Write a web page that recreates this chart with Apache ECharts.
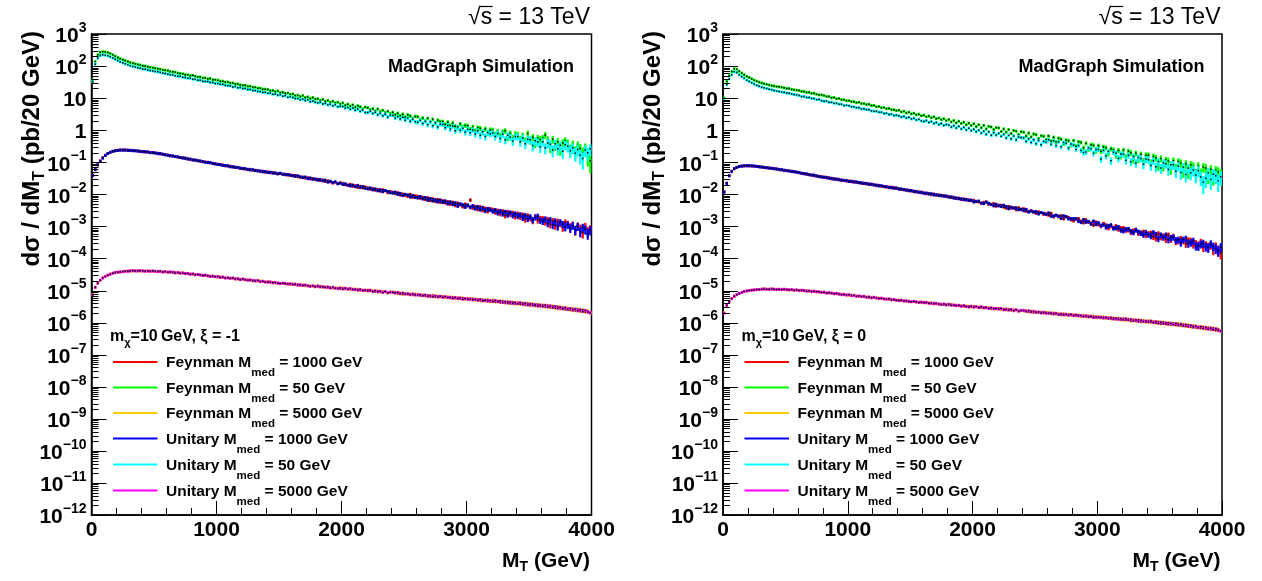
<!DOCTYPE html>
<html>
<head>
<meta charset="utf-8">
<script src="https://cdn.jsdelivr.net/npm/echarts@6/dist/echarts.min.js"></script>
<style>
  html, body { margin: 0; padding: 0; background: #fff; }
  #chart { width: 1262px; height: 581px; }
</style>
</head>
<body>
<div id="chart"></div>
<script>
// ---- Histogram binning: 200 bins of 20 GeV in M_T ----
const BIN_WIDTH = 20;
const mtBinLow = Array.from({ length: 200 }, (_, i) => i * BIN_WIDTH);

// ---- Axis ticks ----
const xTickValues = [0, 1000, 2000, 3000, 4000];
const yDecades = [-12, -11, -10, -9, -8, -7, -6, -5, -4, -3, -2, -1, 0, 1, 2, 3];

// ---- Series definitions (drawing order) ----
const seriesModel = ['Feynman', 'Feynman', 'Feynman', 'Unitary', 'Unitary', 'Unitary'];
const seriesMass = ['1000', '50', '5000', '1000', '50', '5000'];
const seriesColors = ['#ff0000', '#00ff00', '#ffcc00', '#0000ff', '#00ffff', '#ff00ff'];

// Per-event weight (pb) used for the statistical error bars, sqrt(w * value)
const eventWeightXiM1 = [8e-5, 0.04, 2.4e-8, 8e-5, 0.04, 2.4e-8];
const eventWeightXi0 = [2.2e-5, 0.008, 5.5e-9, 2.2e-5, 0.008, 5.5e-9];

// ---- dσ/dM_T per 20 GeV bin, stored as log10(pb) ----
// xi = -1
const lgFey1000_xiM1 = [
-1.40,-1.22,-1.08,-0.96,-0.86,-0.78,-0.73,-0.69,-0.66,-0.64,
-0.63,-0.62,-0.62,-0.62,-0.62,-0.63,-0.63,-0.64,-0.65,-0.66,
-0.67,-0.68,-0.68,-0.69,-0.70,-0.71,-0.72,-0.74,-0.75,-0.76,
-0.78,-0.79,-0.81,-0.82,-0.84,-0.85,-0.86,-0.88,-0.89,-0.91,
-0.92,-0.94,-0.95,-0.97,-0.98,-0.99,-1.00,-1.02,-1.03,-1.05,
-1.06,-1.08,-1.08,-1.11,-1.12,-1.12,-1.15,-1.15,-1.17,-1.19,
-1.19,-1.21,-1.23,-1.22,-1.25,-1.25,-1.26,-1.29,-1.28,-1.31,
-1.30,-1.33,-1.32,-1.35,-1.36,-1.35,-1.38,-1.37,-1.40,-1.39,
-1.43,-1.41,-1.45,-1.47,-1.46,-1.49,-1.48,-1.52,-1.51,-1.54,
-1.53,-1.57,-1.55,-1.60,-1.58,-1.61,-1.65,-1.62,-1.66,-1.64,
-1.66,-1.70,-1.72,-1.69,-1.75,-1.73,-1.78,-1.75,-1.80,-1.77,
-1.80,-1.84,-1.82,-1.87,-1.85,-1.90,-1.86,-1.89,-1.95,-1.91,
-1.93,-1.98,-1.95,-2.02,-1.99,-2.03,-2.06,-2.00,-2.09,-2.05,
-2.06,-2.12,-2.09,-2.16,-2.11,-2.19,-2.14,-2.22,-2.16,-2.24,
-2.20,-2.26,-2.23,-2.30,-2.25,-2.34,-2.28,-2.32,-2.38,-2.31,
-2.35,-2.18,-2.42,-2.38,-2.46,-2.40,-2.49,-2.44,-2.52,-2.46,
-2.48,-2.56,-2.51,-2.60,-2.53,-2.66,-2.55,-2.62,-2.58,-2.69,
-2.61,-2.70,-2.64,-2.78,-2.67,-2.74,-2.82,-2.69,-2.80,-2.75,
-2.76,-2.86,-2.79,-2.93,-2.83,-2.97,-2.85,-2.90,-3.02,-2.88,
-2.92,-3.01,-2.95,-3.12,-2.98,-3.06,-3.19,-3.00,-3.14,-3.08
];
const lgFey50_xiM1 = [
1.57,2.14,2.35,2.43,2.45,2.44,2.42,2.39,2.35,2.31,
2.27,2.23,2.20,2.17,2.14,2.11,2.09,2.07,2.05,2.03,
2.01,2.00,1.98,1.96,1.95,1.93,1.92,1.90,1.88,1.87,
1.86,1.83,1.82,1.81,1.78,1.77,1.76,1.73,1.73,1.70,
1.71,1.68,1.66,1.66,1.63,1.63,1.60,1.61,1.57,1.57,
1.56,1.53,1.53,1.50,1.50,1.47,1.47,1.44,1.44,1.41,
1.40,1.40,1.37,1.37,1.34,1.34,1.31,1.31,1.28,1.28,
1.27,1.23,1.24,1.20,1.22,1.17,1.18,1.15,1.16,1.11,
1.13,1.08,1.09,1.05,1.08,1.02,1.04,0.99,1.02,0.97,
0.98,0.93,0.96,0.90,0.93,0.87,0.90,0.85,0.87,0.82,
0.85,0.78,0.81,0.75,0.79,0.72,0.76,0.73,0.67,0.72,
0.70,0.64,0.67,0.60,0.66,0.58,0.62,0.55,0.59,0.52,
0.56,0.48,0.53,0.45,0.50,0.41,0.48,0.44,0.37,0.43,
0.42,0.33,0.38,0.29,0.37,0.26,0.34,0.22,0.31,0.27,
0.27,0.18,0.25,0.14,0.22,0.12,0.08,0.19,0.10,0.15,
0.14,0.02,0.10,-0.03,0.08,0.06,-0.06,0.04,-0.08,0.01,
0.00,-0.14,-0.04,-0.18,-0.06,-0.02,-0.22,-0.10,-0.25,-0.12,
-0.14,-0.28,-0.17,-0.34,-0.10,-0.31,-0.22,-0.40,-0.25,-0.29,
-0.25,-0.15,-0.30,-0.52,-0.28,-0.47,-0.36,-0.58,-0.40,-0.33,
-0.42,-0.60,-0.45,-0.66,-0.48,-0.57,-0.70,-0.55,-0.82,-0.95
];
const lgFey5000_xiM1 = [
-5.13,-4.91,-4.78,-4.69,-4.60,-4.56,-4.52,-4.49,-4.46,-4.44,
-4.43,-4.42,-4.41,-4.40,-4.39,-4.39,-4.39,-4.38,-4.39,-4.39,
-4.39,-4.39,-4.40,-4.39,-4.40,-4.41,-4.40,-4.41,-4.42,-4.42,
-4.42,-4.43,-4.44,-4.43,-4.45,-4.45,-4.46,-4.46,-4.48,-4.48,
-4.49,-4.50,-4.50,-4.52,-4.52,-4.53,-4.55,-4.54,-4.56,-4.57,
-4.58,-4.57,-4.59,-4.60,-4.60,-4.62,-4.62,-4.63,-4.65,-4.64,
-4.65,-4.67,-4.66,-4.68,-4.70,-4.69,-4.71,-4.70,-4.72,-4.74,
-4.72,-4.75,-4.74,-4.77,-4.76,-4.78,-4.77,-4.80,-4.79,-4.81,
-4.79,-4.82,-4.81,-4.84,-4.82,-4.85,-4.86,-4.85,-4.87,-4.86,
-4.88,-4.86,-4.90,-4.88,-4.91,-4.90,-4.93,-4.91,-4.92,-4.95,
-4.92,-4.95,-4.94,-4.97,-4.95,-4.98,-4.96,-5.00,-4.98,-5.01,
-4.98,-5.02,-5.00,-5.04,-5.01,-5.05,-5.03,-5.04,-5.08,-5.05,
-5.07,-5.05,-5.10,-5.07,-5.12,-5.09,-5.12,-5.10,-5.14,-5.11,
-5.12,-5.16,-5.13,-5.17,-5.15,-5.19,-5.15,-5.20,-5.17,-5.21,
-5.18,-5.22,-5.19,-5.24,-5.20,-5.25,-5.22,-5.26,-5.23,-5.28,
-5.24,-5.29,-5.25,-5.30,-5.27,-5.32,-5.28,-5.33,-5.29,-5.35,
-5.30,-5.36,-5.32,-5.38,-5.33,-5.39,-5.34,-5.41,-5.36,-5.42,
-5.37,-5.43,-5.39,-5.45,-5.40,-5.47,-5.41,-5.48,-5.43,-5.50,
-5.45,-5.51,-5.46,-5.53,-5.48,-5.55,-5.50,-5.57,-5.52,-5.59,
-5.55,-5.61,-5.56,-5.63,-5.58,-5.65,-5.60,-5.67,-5.63,-5.70
];
const lgUni1000_xiM1 = [
-1.41,-1.23,-1.08,-0.97,-0.87,-0.79,-0.73,-0.69,-0.66,-0.64,
-0.63,-0.62,-0.62,-0.62,-0.63,-0.63,-0.64,-0.64,-0.65,-0.66,
-0.67,-0.67,-0.68,-0.70,-0.70,-0.71,-0.73,-0.73,-0.75,-0.77,
-0.78,-0.80,-0.80,-0.82,-0.83,-0.85,-0.87,-0.87,-0.90,-0.90,
-0.93,-0.93,-0.95,-0.96,-0.98,-1.00,-1.01,-1.01,-1.04,-1.05,
-1.07,-1.07,-1.10,-1.10,-1.11,-1.14,-1.14,-1.16,-1.16,-1.18,
-1.20,-1.20,-1.22,-1.24,-1.23,-1.26,-1.27,-1.27,-1.30,-1.29,
-1.32,-1.31,-1.34,-1.33,-1.36,-1.34,-1.37,-1.39,-1.38,-1.41,
-1.41,-1.44,-1.42,-1.45,-1.48,-1.46,-1.51,-1.49,-1.53,-1.52,
-1.56,-1.54,-1.58,-1.56,-1.62,-1.59,-1.63,-1.61,-1.67,-1.65,
-1.69,-1.67,-1.71,-1.74,-1.71,-1.76,-1.72,-1.79,-1.76,-1.81,
-1.83,-1.80,-1.86,-1.83,-1.89,-1.86,-1.92,-1.88,-1.91,-1.95,
-1.96,-1.93,-2.00,-1.97,-2.04,-2.00,-2.02,-2.08,-2.04,-2.10,
-2.11,-2.07,-2.14,-2.10,-2.18,-2.13,-2.20,-2.17,-2.23,-2.18,
-2.25,-2.21,-2.29,-2.24,-2.31,-2.27,-2.36,-2.30,-2.33,-2.39,
-2.34,-2.40,-2.36,-2.44,-2.39,-2.47,-2.42,-2.51,-2.45,-2.48,
-2.53,-2.49,-2.58,-2.52,-2.61,-2.55,-2.64,-2.57,-2.66,-2.60,
-2.68,-2.63,-2.73,-2.66,-2.76,-2.70,-2.79,-2.72,-2.68,-2.81,
-2.84,-2.77,-2.90,-2.80,-2.95,-2.84,-2.99,-2.87,-2.93,-3.01,
-2.95,-3.05,-2.97,-3.10,-3.00,-3.16,-3.03,-3.09,-3.22,-3.11
];
const lgUni50_xiM1 = [
1.50,2.06,2.25,2.33,2.35,2.34,2.32,2.29,2.25,2.21,
2.17,2.13,2.10,2.07,2.04,2.01,1.99,1.97,1.95,1.93,
1.91,1.90,1.88,1.86,1.85,1.83,1.82,1.80,1.78,1.77,
1.75,1.73,1.73,1.70,1.68,1.68,1.65,1.64,1.62,1.62,
1.59,1.59,1.56,1.56,1.53,1.52,1.52,1.49,1.49,1.46,
1.46,1.43,1.43,1.40,1.39,1.39,1.35,1.36,1.32,1.33,
1.30,1.30,1.27,1.27,1.24,1.24,1.21,1.21,1.18,1.18,
1.15,1.16,1.12,1.13,1.09,1.11,1.06,1.08,1.03,1.04,
1.02,0.99,0.99,0.95,0.97,0.93,0.95,0.89,0.91,0.87,
0.85,0.87,0.82,0.84,0.79,0.81,0.76,0.79,0.73,0.75,
0.74,0.69,0.71,0.65,0.69,0.62,0.66,0.59,0.63,0.55,
0.55,0.59,0.52,0.56,0.48,0.53,0.45,0.50,0.41,0.47,
0.46,0.38,0.43,0.35,0.40,0.31,0.38,0.28,0.34,0.26,
0.25,0.31,0.21,0.28,0.17,0.26,0.14,0.23,0.10,0.19,
0.18,0.08,0.15,0.04,0.13,-0.02,0.10,0.00,0.06,-0.06,
0.03,-0.08,0.01,-0.12,-0.02,-0.16,-0.05,-0.20,-0.07,-0.11,
-0.09,-0.20,-0.10,-0.26,-0.13,-0.30,-0.16,-0.21,-0.34,-0.20,
-0.20,-0.36,-0.24,-0.42,-0.28,-0.30,-0.48,-0.33,-0.37,-0.52,
-0.36,-0.55,-0.40,-0.44,-0.62,-0.42,-0.58,-0.47,-0.66,-0.45,
-0.50,-0.64,-0.55,-0.72,-0.60,-0.78,-0.88,-0.62,-0.70,-0.58
];
const lgUni5000_xiM1 = [
-5.14,-4.90,-4.77,-4.68,-4.61,-4.56,-4.52,-4.49,-4.46,-4.44,
-4.43,-4.42,-4.41,-4.40,-4.40,-4.39,-4.38,-4.39,-4.39,-4.38,
-4.39,-4.40,-4.39,-4.40,-4.39,-4.40,-4.41,-4.40,-4.42,-4.41,
-4.43,-4.42,-4.43,-4.45,-4.44,-4.46,-4.45,-4.47,-4.47,-4.49,
-4.48,-4.51,-4.50,-4.51,-4.53,-4.52,-4.54,-4.56,-4.55,-4.57,
-4.56,-4.59,-4.58,-4.61,-4.60,-4.62,-4.61,-4.64,-4.63,-4.66,
-4.64,-4.66,-4.68,-4.67,-4.69,-4.70,-4.69,-4.72,-4.71,-4.73,
-4.74,-4.73,-4.76,-4.75,-4.77,-4.78,-4.77,-4.78,-4.80,-4.79,
-4.81,-4.80,-4.83,-4.82,-4.84,-4.83,-4.85,-4.87,-4.85,-4.88,
-4.86,-4.89,-4.88,-4.90,-4.89,-4.92,-4.90,-4.93,-4.94,-4.92,
-4.95,-4.93,-4.96,-4.94,-4.97,-4.96,-4.99,-4.97,-5.00,-4.99,
-5.01,-4.99,-5.03,-5.01,-5.04,-5.02,-5.06,-5.03,-5.07,-5.05,
-5.05,-5.08,-5.06,-5.10,-5.08,-5.11,-5.10,-5.13,-5.11,-5.14,
-5.14,-5.13,-5.16,-5.14,-5.18,-5.16,-5.19,-5.17,-5.20,-5.18,
-5.21,-5.19,-5.22,-5.21,-5.24,-5.22,-5.25,-5.23,-5.27,-5.25,
-5.27,-5.26,-5.29,-5.27,-5.30,-5.28,-5.32,-5.30,-5.33,-5.31,
-5.34,-5.31,-5.35,-5.33,-5.37,-5.35,-5.39,-5.36,-5.40,-5.38,
-5.41,-5.38,-5.43,-5.40,-5.45,-5.42,-5.46,-5.44,-5.48,-5.45,
-5.49,-5.46,-5.51,-5.48,-5.53,-5.50,-5.55,-5.52,-5.57,-5.54,
-5.59,-5.56,-5.61,-5.58,-5.63,-5.60,-5.65,-5.62,-5.67,-5.69
];

// xi = 0
const lgFey1000_xi0 = [
-1.92,-1.65,-1.42,-1.28,-1.20,-1.16,-1.13,-1.12,-1.11,-1.11,
-1.11,-1.12,-1.12,-1.13,-1.14,-1.15,-1.16,-1.17,-1.18,-1.19,
-1.20,-1.21,-1.22,-1.24,-1.25,-1.26,-1.27,-1.28,-1.30,-1.31,
-1.33,-1.35,-1.35,-1.38,-1.38,-1.40,-1.42,-1.42,-1.45,-1.45,
-1.46,-1.49,-1.48,-1.52,-1.51,-1.54,-1.53,-1.57,-1.56,-1.59,
-1.58,-1.61,-1.60,-1.63,-1.63,-1.66,-1.65,-1.68,-1.67,-1.70,
-1.70,-1.73,-1.72,-1.75,-1.75,-1.78,-1.77,-1.80,-1.79,-1.82,
-1.82,-1.85,-1.85,-1.88,-1.87,-1.90,-1.90,-1.93,-1.92,-1.95,
-1.95,-1.98,-1.97,-2.01,-1.99,-2.03,-2.02,-2.05,-2.04,-2.07,
-2.07,-2.10,-2.09,-2.13,-2.12,-2.16,-2.14,-2.18,-2.17,-2.20,
-2.19,-2.23,-2.24,-2.28,-2.25,-2.24,-2.31,-2.31,-2.29,-2.37,
-2.34,-2.34,-2.40,-2.43,-2.38,-2.43,-2.42,-2.48,-2.42,-2.48,
-2.45,-2.53,-2.53,-2.51,-2.55,-2.59,-2.55,-2.57,-2.62,-2.61,
-2.65,-2.59,-2.70,-2.66,-2.70,-2.67,-2.76,-2.69,-2.72,-2.79,
-2.82,-2.78,-2.76,-2.84,-2.88,-2.80,-2.86,-2.90,-2.95,-2.87,
-2.94,-2.99,-2.91,-2.96,-3.05,-2.99,-3.04,-2.99,-3.09,-3.06,
-3.05,-3.12,-3.11,-3.18,-3.13,-3.11,-3.21,-3.20,-3.17,-3.27,
-3.22,-3.21,-3.32,-3.36,-3.23,-3.33,-3.30,-3.40,-3.27,-3.40,
-3.31,-3.46,-3.44,-3.39,-3.44,-3.53,-3.43,-3.45,-3.55,-3.53,
-3.58,-3.49,-3.64,-3.57,-3.62,-3.58,-3.72,-3.61,-3.72,-3.82
];
const lgFey50_xi0 = [
1.00,1.52,1.70,1.83,1.92,1.90,1.84,1.78,1.73,1.68,
1.64,1.60,1.56,1.53,1.50,1.47,1.45,1.43,1.41,1.39,
1.38,1.36,1.35,1.34,1.32,1.30,1.30,1.27,1.26,1.25,
1.24,1.21,1.21,1.18,1.18,1.15,1.15,1.12,1.10,1.10,
1.08,1.05,1.05,1.01,1.02,0.98,0.99,0.95,0.95,0.92,
0.92,0.89,0.89,0.86,0.87,0.83,0.83,0.80,0.81,0.77,
0.77,0.73,0.74,0.70,0.71,0.67,0.68,0.64,0.64,0.61,
0.62,0.57,0.59,0.54,0.56,0.51,0.53,0.48,0.50,0.45,
0.47,0.42,0.44,0.39,0.42,0.36,0.38,0.33,0.36,0.30,
0.33,0.26,0.30,0.23,0.28,0.21,0.25,0.17,0.22,0.15,
0.20,0.11,0.17,0.08,0.15,0.04,0.12,0.10,0.02,0.08,
0.07,-0.04,0.04,-0.06,0.02,-0.10,-0.01,-0.03,-0.14,-0.05,
-0.06,-0.18,-0.09,-0.21,-0.12,-0.14,-0.26,-0.17,-0.19,-0.30,
-0.18,-0.34,-0.22,-0.37,-0.25,-0.28,-0.43,-0.31,-0.33,-0.47,
-0.32,-0.50,-0.36,-0.38,-0.55,-0.41,-0.59,-0.45,-0.47,-0.64,
-0.48,-0.66,-0.52,-0.55,-0.72,-0.58,-0.61,-0.78,-0.63,-0.80,
-0.62,-0.85,-0.66,-0.70,-0.92,-0.72,-0.90,-0.75,-0.97,-0.78,
-0.78,-1.02,-0.82,-0.86,-1.10,-0.88,-1.12,-0.93,-0.96,-1.20,
-0.95,-1.18,-0.98,-1.02,-1.28,-1.05,-1.30,-1.08,-1.12,-1.36,
-1.12,-1.35,-1.15,-1.18,-1.42,-1.22,-1.45,-1.25,-1.30,-1.38
];
const lgFey5000_xi0 = [
-5.70,-5.47,-5.34,-5.25,-5.17,-5.13,-5.09,-5.06,-5.03,-5.01,
-5.00,-4.99,-4.98,-4.97,-4.96,-4.96,-4.95,-4.96,-4.96,-4.95,
-4.96,-4.96,-4.97,-4.96,-4.97,-4.98,-4.97,-4.98,-4.99,-4.99,
-4.99,-5.00,-5.01,-5.00,-5.02,-5.02,-5.03,-5.03,-5.05,-5.05,
-5.06,-5.07,-5.07,-5.09,-5.09,-5.10,-5.12,-5.11,-5.13,-5.14,
-5.15,-5.14,-5.16,-5.17,-5.17,-5.19,-5.19,-5.20,-5.22,-5.21,
-5.22,-5.24,-5.23,-5.25,-5.27,-5.26,-5.28,-5.27,-5.29,-5.31,
-5.29,-5.32,-5.31,-5.34,-5.33,-5.35,-5.34,-5.37,-5.36,-5.38,
-5.36,-5.39,-5.38,-5.41,-5.39,-5.42,-5.43,-5.42,-5.44,-5.43,
-5.45,-5.43,-5.47,-5.45,-5.48,-5.47,-5.50,-5.48,-5.49,-5.52,
-5.49,-5.52,-5.51,-5.54,-5.52,-5.55,-5.53,-5.57,-5.55,-5.58,
-5.55,-5.59,-5.57,-5.61,-5.58,-5.62,-5.60,-5.61,-5.65,-5.62,
-5.64,-5.62,-5.67,-5.64,-5.69,-5.66,-5.69,-5.67,-5.71,-5.68,
-5.69,-5.73,-5.70,-5.74,-5.72,-5.76,-5.72,-5.77,-5.74,-5.78,
-5.75,-5.79,-5.76,-5.81,-5.77,-5.82,-5.79,-5.83,-5.80,-5.85,
-5.81,-5.86,-5.82,-5.87,-5.84,-5.89,-5.85,-5.90,-5.86,-5.92,
-5.87,-5.93,-5.89,-5.95,-5.90,-5.96,-5.91,-5.98,-5.93,-5.99,
-5.94,-6.00,-5.96,-6.02,-5.97,-6.04,-5.98,-6.05,-6.00,-6.07,
-6.02,-6.08,-6.03,-6.10,-6.05,-6.12,-6.07,-6.14,-6.09,-6.16,
-6.12,-6.18,-6.13,-6.20,-6.15,-6.22,-6.17,-6.25,-6.20,-6.28
];
const lgUni1000_xi0 = [
-1.93,-1.66,-1.42,-1.29,-1.20,-1.16,-1.13,-1.12,-1.11,-1.11,
-1.11,-1.11,-1.12,-1.13,-1.14,-1.15,-1.16,-1.17,-1.18,-1.19,
-1.20,-1.21,-1.23,-1.23,-1.25,-1.26,-1.27,-1.29,-1.29,-1.31,
-1.32,-1.34,-1.36,-1.36,-1.39,-1.40,-1.40,-1.43,-1.44,-1.46,
-1.47,-1.47,-1.50,-1.50,-1.53,-1.52,-1.55,-1.55,-1.57,-1.57,
-1.60,-1.59,-1.62,-1.61,-1.64,-1.64,-1.66,-1.66,-1.69,-1.68,
-1.71,-1.71,-1.74,-1.73,-1.76,-1.76,-1.79,-1.78,-1.81,-1.80,
-1.84,-1.83,-1.86,-1.86,-1.89,-1.88,-1.92,-1.91,-1.94,-1.93,
-1.97,-1.96,-1.99,-1.98,-2.02,-2.01,-2.04,-2.03,-2.06,-2.05,
-2.09,-2.08,-2.12,-2.11,-2.14,-2.14,-2.17,-2.16,-2.19,-2.18,
-2.24,-2.22,-2.21,-2.27,-2.29,-2.24,-2.28,-2.32,-2.36,-2.31,
-2.36,-2.38,-2.34,-2.38,-2.45,-2.40,-2.43,-2.42,-2.48,-2.46,
-2.51,-2.47,-2.55,-2.52,-2.55,-2.54,-2.61,-2.57,-2.59,-2.63,
-2.58,-2.68,-2.67,-2.65,-2.68,-2.75,-2.67,-2.70,-2.76,-2.76,
-2.76,-2.76,-2.84,-2.87,-2.79,-2.86,-2.85,-2.92,-2.84,-2.93,
-2.89,-2.97,-2.95,-3.03,-2.98,-2.96,-3.06,-3.05,-3.02,-3.12,
-3.14,-3.09,-3.08,-3.15,-3.19,-3.11,-3.17,-3.21,-3.26,-3.18,
-3.26,-3.30,-3.19,-3.25,-3.38,-3.27,-3.34,-3.27,-3.41,-3.35,
-3.34,-3.43,-3.41,-3.50,-3.41,-3.38,-3.53,-3.50,-3.45,-3.60,
-3.61,-3.55,-3.52,-3.63,-3.66,-3.54,-3.62,-3.69,-3.76,-3.64
];
const lgUni50_xi0 = [
0.92,1.42,1.60,1.73,1.82,1.80,1.73,1.67,1.62,1.56,
1.52,1.48,1.44,1.40,1.37,1.34,1.32,1.30,1.28,1.26,
1.24,1.22,1.21,1.19,1.18,1.16,1.15,1.13,1.11,1.10,
1.08,1.05,1.05,1.02,1.02,0.99,0.99,0.95,0.96,0.92,
0.90,0.91,0.87,0.87,0.84,0.84,0.81,0.81,0.77,0.78,
0.76,0.73,0.73,0.70,0.70,0.66,0.67,0.64,0.64,0.60,
0.59,0.59,0.56,0.56,0.52,0.53,0.49,0.50,0.46,0.47,
0.45,0.41,0.43,0.38,0.40,0.35,0.37,0.32,0.34,0.29,
0.27,0.30,0.24,0.27,0.21,0.24,0.18,0.21,0.15,0.18,
0.16,0.10,0.14,0.07,0.12,0.04,0.09,0.01,0.06,-0.01,
0.03,-0.05,0.00,-0.09,-0.03,-0.13,-0.05,-0.16,-0.08,-0.15,
-0.10,-0.19,-0.13,-0.24,-0.16,-0.27,-0.18,-0.30,-0.21,-0.23,
-0.24,-0.35,-0.27,-0.38,-0.30,-0.42,-0.32,-0.45,-0.35,-0.37,
-0.30,-0.44,-0.33,-0.48,-0.36,-0.52,-0.38,-0.41,-0.56,-0.43,
-0.46,-0.60,-0.48,-0.63,-0.70,-0.68,-0.55,-0.58,-0.72,-0.60,
-0.60,-0.90,-0.63,-0.80,-0.66,-0.95,-0.69,-0.72,-0.88,-0.74,
-0.75,-0.94,-0.78,-0.98,-0.82,-1.02,-0.85,-0.88,-1.06,-0.90,
-0.92,-1.10,-0.95,-1.14,-0.98,-1.18,-1.02,-1.05,-1.22,-1.08,
-1.08,-1.28,-1.12,-1.32,-1.15,-1.38,-1.18,-1.33,-1.24,-1.40,
-1.26,-1.46,-1.62,-1.50,-1.33,-1.54,-1.37,-1.42,-1.58,-1.45
];
const lgUni5000_xi0 = [
-5.71,-5.46,-5.35,-5.25,-5.18,-5.13,-5.09,-5.06,-5.03,-5.01,
-5.00,-4.99,-4.98,-4.97,-4.97,-4.96,-4.95,-4.96,-4.96,-4.95,
-4.96,-4.97,-4.96,-4.97,-4.96,-4.97,-4.98,-4.97,-4.99,-4.98,
-5.00,-4.99,-5.00,-5.02,-5.01,-5.03,-5.02,-5.04,-5.04,-5.06,
-5.05,-5.08,-5.07,-5.08,-5.10,-5.09,-5.11,-5.13,-5.12,-5.14,
-5.13,-5.16,-5.15,-5.18,-5.17,-5.19,-5.18,-5.21,-5.20,-5.23,
-5.21,-5.23,-5.25,-5.24,-5.26,-5.27,-5.26,-5.29,-5.28,-5.30,
-5.31,-5.30,-5.33,-5.32,-5.34,-5.35,-5.34,-5.35,-5.37,-5.36,
-5.38,-5.37,-5.40,-5.39,-5.41,-5.40,-5.42,-5.44,-5.42,-5.45,
-5.43,-5.46,-5.45,-5.47,-5.46,-5.49,-5.47,-5.50,-5.51,-5.49,
-5.52,-5.50,-5.53,-5.51,-5.54,-5.53,-5.56,-5.54,-5.57,-5.56,
-5.58,-5.56,-5.60,-5.58,-5.61,-5.59,-5.63,-5.60,-5.64,-5.62,
-5.62,-5.65,-5.63,-5.67,-5.65,-5.68,-5.67,-5.70,-5.68,-5.71,
-5.71,-5.70,-5.73,-5.71,-5.75,-5.73,-5.76,-5.74,-5.77,-5.75,
-5.78,-5.76,-5.79,-5.78,-5.81,-5.79,-5.82,-5.80,-5.84,-5.82,
-5.84,-5.83,-5.86,-5.84,-5.87,-5.85,-5.89,-5.87,-5.90,-5.88,
-5.91,-5.88,-5.92,-5.90,-5.94,-5.92,-5.96,-5.93,-5.97,-5.95,
-5.98,-5.95,-6.00,-5.97,-6.02,-5.99,-6.03,-6.01,-6.05,-6.02,
-6.06,-6.03,-6.08,-6.05,-6.10,-6.07,-6.12,-6.09,-6.14,-6.11,
-6.16,-6.13,-6.18,-6.15,-6.20,-6.17,-6.22,-6.19,-6.24,-6.26
];

// ---- Layout ----
const FONT = '"Liberation Sans", Arial, Helvetica, sans-serif';
const Y_MIN = 1e-12, Y_MAX = 1e3;
const panels = [
  { left: 91.5, width: 500, xi: '-1', titleX: 32.5,
    data: [lgFey1000_xiM1, lgFey50_xiM1, lgFey5000_xiM1, lgUni1000_xiM1, lgUni50_xiM1, lgUni5000_xiM1],
    weight: eventWeightXiM1 },
  { left: 723, width: 499, xi: '0', titleX: 653,
    data: [lgFey1000_xi0, lgFey50_xi0, lgFey5000_xi0, lgUni1000_xi0, lgUni50_xi0, lgUni5000_xi0],
    weight: eventWeightXi0 }
];
const GRID_TOP = 34, GRID_HEIGHT = 481;

// Log-axis ticks: decades (major, labelled) and 2..9 x 10^n (minor)
const yMajorTicks = yDecades.map(n => [0, Math.pow(10, n)]);
const yMinorTicks = [];
for (let n = -12; n < 3; n++) {
  for (let k = 2; k <= 9; k++) yMinorTicks.push([0, k * Math.pow(10, n)]);
}

function decadeLabel(value) {
  const n = Math.round(Math.log10(value));
  if (n === 0) return '{b|1}';
  if (n === 1) return '{b|10}';
  return '{b|10}{s|' + (n < 0 ? '\u2212' + (-n) : String(n)) + '}';
}
const decadeRich = {
  b: { fontFamily: FONT, fontWeight: 'bold', fontSize: 21, lineHeight: 26, verticalAlign: 'bottom', fill: '#000', color: '#000' },
  s: { fontFamily: FONT, fontWeight: 'bold', fontSize: 14, lineHeight: 14, padding: [0, 0, 8, 0], verticalAlign: 'top', fill: '#000', color: '#000' }
};

// One histogram bin: horizontal bar over the bin, vertical error bar, black marker
function renderBin(params, api) {
  const x0 = api.value(0), v = api.value(1), lo = api.value(2), hi = api.value(3);
  const color = api.visual('color');
  const a = api.coord([x0, v]);
  const b = api.coord([x0 + BIN_WIDTH, v]);
  const xc = (a[0] + b[0]) / 2;
  const pLo = api.coord([x0, lo]);
  const pHi = api.coord([x0, hi]);
  return {
    type: 'group',
    children: [
      { type: 'line', shape: { x1: a[0], y1: a[1], x2: b[0], y2: b[1] }, style: { stroke: color, lineWidth: 3 } },
      { type: 'line', shape: { x1: xc, y1: pLo[1], x2: xc, y2: pHi[1] }, style: { stroke: color, lineWidth: 2.2 } },
      { type: 'rect', shape: { x: xc - 0.75, y: a[1] - 0.75, width: 1.5, height: 1.5 }, style: { fill: '#000' } }
    ]
  };
}

function renderMinorTick(params, api) {
  const p = api.coord([api.value(0), api.value(1)]);
  const y = Math.round(p[1]) + 0.5;
  return { type: 'line', shape: { x1: p[0], y1: y, x2: p[0] + 7, y2: y }, style: { stroke: '#000', lineWidth: 1 } };
}

function renderMajorTick(params, api) {
  const v = api.value(1);
  const p = api.coord([api.value(0), v]);
  const y = Math.round(p[1]) + 0.5;
  return {
    type: 'group',
    children: [
      { type: 'line', shape: { x1: p[0], y1: y, x2: p[0] + 15, y2: y }, style: { stroke: '#000', lineWidth: 1 } },
      { type: 'text', x: p[0] - 5, y: p[1],
        style: { text: decadeLabel(v), rich: decadeRich, fill: '#000',
          align: 'right', textAlign: 'right', verticalAlign: 'middle', textVerticalAlign: 'middle' } }
    ]
  };
}

// Width of a string in a given CSS font, for placing the radical's bar
const measureCtx = document.createElement('canvas').getContext('2d');
function textWidth(str, font) { measureCtx.font = font; return measureCtx.measureText(str).width; }

const grids = [], xAxes = [], yAxes = [], series = [], graphics = [];
const richNormal = (size) => ({ fontFamily: FONT, fontWeight: 'bold', fontSize: size, fill: '#000', color: '#000' });

panels.forEach((p, pi) => {
  grids.push({
    left: p.left, top: GRID_TOP, width: p.width, height: GRID_HEIGHT,
    containLabel: false, outerBoundsMode: 'none',
    show: true, borderColor: '#000', borderWidth: 1.5, backgroundColor: 'transparent'
  });
  xAxes.push({
    type: 'value', gridIndex: pi, min: xTickValues[0], max: xTickValues[xTickValues.length - 1], interval: 1000,
    axisLine: { show: true, lineStyle: { color: '#000', width: 1.5 } },
    axisTick: { show: true, inside: true, length: 14, lineStyle: { color: '#000', width: 1 } },
    minorTick: { show: true, splitNumber: 5, length: 7, lineStyle: { color: '#000', width: 1 } },
    splitLine: { show: false }, minorSplitLine: { show: false },
    axisLabel: { show: true, margin: 5, color: '#000', fontFamily: FONT, fontWeight: 'bold', fontSize: 21,
      showMinLabel: true, showMaxLabel: true, formatter: (v) => String(v) }
  });
  yAxes.push({
    type: 'log', logBase: 10, gridIndex: pi, min: Y_MIN, max: Y_MAX,
    axisLine: { show: true, lineStyle: { color: '#000', width: 1.5 } },
    axisTick: { show: false }, axisLabel: { show: false }, splitLine: { show: false }
  });

  series.push({
    type: 'custom', xAxisIndex: pi, yAxisIndex: pi, silent: true, clip: false,
    renderItem: renderMinorTick, data: yMinorTicks, z: 5
  });
  series.push({
    type: 'custom', xAxisIndex: pi, yAxisIndex: pi, silent: true, clip: false,
    renderItem: renderMajorTick, data: yMajorTicks, z: 5
  });

  p.data.forEach((lg, si) => {
    const w = p.weight[si];
    const pts = lg.map((l, i) => {
      const v = Math.pow(10, l);
      const err = Math.sqrt(w * v);
      return [mtBinLow[i], v, Math.max(v - err, 1e-13), v + err];
    });
    series.push({
      type: 'custom', name: seriesModel[si] + ' ' + seriesMass[si],
      xAxisIndex: pi, yAxisIndex: pi, silent: true, clip: true,
      renderItem: renderBin, data: pts, encode: { x: 0, y: 1 },
      itemStyle: { color: seriesColors[si] }, z: 2
    });
  });

  const dx = p.left - 91.5;
  const right = p.left + p.width;

  // Energy label above the frame, with the bar of the square root over "s"
  const energyFont = '23px ' + FONT;
  const energyRight = right - 1.5;
  graphics.push({ type: 'text', x: energyRight, y: 18,
    style: { text: '\u221As = 13 TeV', font: energyFont, fill: '#000',
      align: 'right', textAlign: 'right', verticalAlign: 'middle', textVerticalAlign: 'middle' } });
  const sStart = energyRight - textWidth('s = 13 TeV', energyFont);
  const sEnd = energyRight - textWidth(' = 13 TeV', energyFont);
  graphics.push({ type: 'line', shape: { x1: sStart - 1, y1: 6.5, x2: sEnd + 0.5, y2: 6.5 },
    style: { stroke: '#000', lineWidth: 1.2 } });

  // Generator label
  graphics.push({ type: 'text', x: right - 17.5, y: 67,
    style: { text: 'MadGraph Simulation', font: 'bold 18px ' + FONT, fill: '#000',
      align: 'right', textAlign: 'right', verticalAlign: 'middle', textVerticalAlign: 'middle' } });
  // Y title (rotated)
  graphics.push({ type: 'text', x: p.titleX, y: 31, rotation: Math.PI / 2,
    style: { text: '{n|d\u03C3 / dM}{t|T}{n| (pb/20 GeV)}', fill: '#000',
      align: 'right', textAlign: 'right', verticalAlign: 'middle', textVerticalAlign: 'middle',
      rich: {
        n: Object.assign(richNormal(24), { lineHeight: 30, verticalAlign: 'middle' }),
        t: Object.assign(richNormal(16), { lineHeight: 16, verticalAlign: 'bottom' })
      } } });
  // X title
  graphics.push({ type: 'text', x: right - 1.5, y: 561,
    style: { text: '{n|M}{t|T}{n| (GeV)}', fill: '#000',
      align: 'right', textAlign: 'right', verticalAlign: 'middle', textVerticalAlign: 'middle',
      rich: {
        n: Object.assign(richNormal(21), { lineHeight: 26, verticalAlign: 'middle' }),
        t: Object.assign(richNormal(14), { lineHeight: 14, verticalAlign: 'bottom' })
      } } });
  // Legend header
  graphics.push({ type: 'text', x: 110 + dx, y: 337,
    style: { text: '{n|m}{t|\u03C7}{n|=10\u2009GeV, \u03BE = ' + p.xi + '}', fill: '#000',
      align: 'left', textAlign: 'left', verticalAlign: 'middle', textVerticalAlign: 'middle',
      rich: {
        n: Object.assign(richNormal(16), { lineHeight: 22, verticalAlign: 'middle' }),
        t: Object.assign(richNormal(11), { lineHeight: 11, verticalAlign: 'bottom' })
      } } });
  // Legend entries
  const rowY = [362, 387.5, 413, 438.5, 464.5, 490.5];
  seriesModel.forEach((m, si) => {
    const y = rowY[si];
    graphics.push({ type: 'line', shape: { x1: 113 + dx, y1: y, x2: 157.5 + dx, y2: y },
      style: { stroke: seriesColors[si], lineWidth: 2 } });
    graphics.push({ type: 'text', x: 166 + dx, y: y + 5,
      style: { text: '{n|' + m + ' M}{t|med}{n| = ' + seriesMass[si] + ' GeV}', fill: '#000',
        align: 'left', textAlign: 'left', verticalAlign: 'middle', textVerticalAlign: 'middle',
        rich: {
          n: Object.assign(richNormal(15.5), { lineHeight: 24, verticalAlign: 'top' }),
          t: Object.assign(richNormal(11.5), { lineHeight: 11, verticalAlign: 'bottom' })
        } } });
  });
});

const chart = echarts.init(document.getElementById('chart'), null, { renderer: 'canvas' });
chart.setOption({
  animation: false,
  backgroundColor: '#fff',
  grid: grids,
  xAxis: xAxes,
  yAxis: yAxes,
  series: series,
  graphic: { elements: graphics }
});
</script>
</body>
</html>
